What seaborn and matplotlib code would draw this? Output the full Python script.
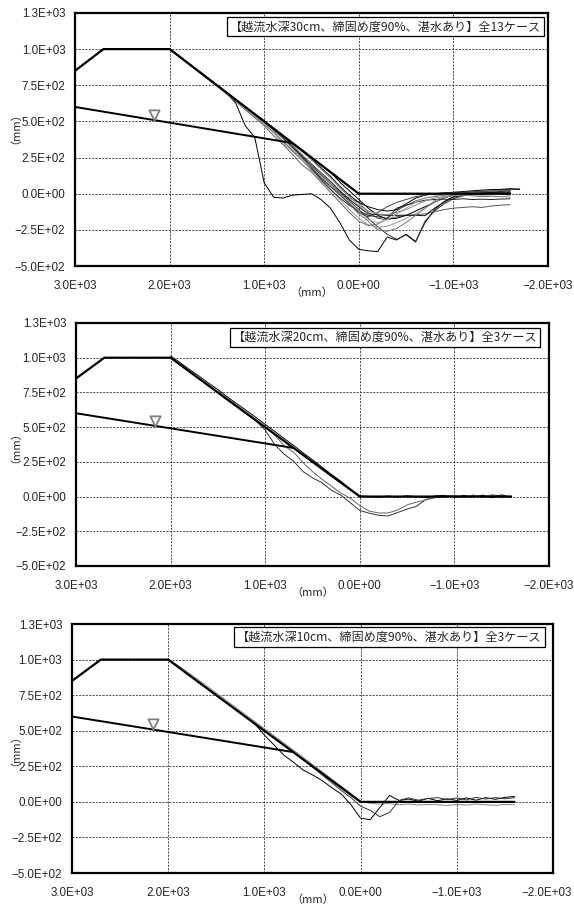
import numpy as np
import pandas as pd
import matplotlib
matplotlib.use("Agg")
import matplotlib.pyplot as plt
import matplotlib.transforms as mtransforms
import seaborn as sns

nan = np.nan

# survey positions along the levee (mm), shared by every measured case
x_grid = [2000, 1900, 1800, 1700, 1600, 1500, 1400, 1300, 1200, 1100,
          1000, 900, 800, 700, 600, 500, 400, 300, 200, 100,
          0, -100, -200, -300, -400, -500, -600, -700, -800, -900,
          -1000, -1100, -1200, -1300, -1400, -1500, -1600, -1700]

# initial levee profile and water surface
profile_x = [3000, 2700, 2000, 0, -1600]
profile_y = [850, 1000, 1000, 0, 0]
water_x = [3000, 700]
water_y = [600, 350]
water_mark = [2160, 545]

x_ticks = [3000, 2000, 1000, 0, -1000, -2000]
x_ticklabels = ["3.0E+03", "2.0E+03", "1.0E+03", "0.0E+00", "\u22121.0E+03", "\u22122.0E+03"]
y_ticks = [1250, 1000, 750, 500, 250, 0, -250, -500]
y_ticklabels = ["1.3E+03", "1.0E+03", "7.5E+02", "5.0E+02", "2.5E+02", "0.0E+00",
                "\u22122.5E+02", "\u22125.0E+02"]

titles = ["【越流水深30cm、締固め度90%、湛水あり】全13ケース",
          "【越流水深20cm、締固め度90%、湛水あり】全3ケース",
          "【越流水深10cm、締固め度90%、湛水あり】全3ケース"]

# overflow depth 30 cm: 13 cases
d30_cases = [
    [1005, 952, 903, 851, 801, 748, 697, 625, 470, 390,
     75, -25, -30, -10, -5, 0, -40, -100, -200, -320,
     -385, -395, -400, -300, -320, -280, -330, -200, -110, -55,
     -20, -5, 5, 10, 12, 15, 20, nan],
    [1000, 950, 899, 849, 799, 749, 699, 648, 598, 548,
     495, 440, 380, 320, 260, 195, 130, 70, 10, -50,
     -110, -170, -230, -280, -315, -285, -335, -190, -120, -70,
     -35, -15, -5, 0, 5, 3, 8, nan],
    [1002, 951, 901, 850, 800, 750, 698, 645, 592, 540,
     485, 425, 360, 300, 235, 170, 110, 50, 0, -30,
     -60, -130, -170, -180, -160, -150, -145, -140, -125, -110,
     -100, -95, -90, -95, -85, -80, -75, nan],
    [1001, 951, 900, 851, 800, 751, 700, 651, 600, 551,
     500, 451, 400, 350, 300, 250, 198, 148, 80, 20,
     -40, -100, -150, -175, -170, -150, -120, -90, -60, -30,
     -10, 5, 15, 20, 25, 28, 30, 32],
    [998, 948, 897, 846, 795, 744, 692, 640, 588, 535,
     480, 420, 350, 290, 230, 160, 90, 30, -40, -110,
     -170, -215, -235, -225, -200, -170, -140, -100, -60, -30,
     -10, 0, 5, 10, 12, 10, 15, nan],
    [1003, 953, 902, 852, 802, 751, 701, 650, 600, 550,
     500, 455, 395, 335, 265, 205, 145, 85, 20, -40,
     -90, -140, -145, -150, -150, -148, -150, -152, -100, -60,
     -25, -10, 0, 5, 8, 10, 12, nan],
    [1000, 949, 898, 847, 796, 745, 693, 638, 580, 525,
     470, 400, 340, 270, 200, 150, 80, 10, -60, -130,
     -190, -220, -210, -170, -120, -80, -50, -30, -20, -10,
     0, 10, 15, 20, 22, 25, 28, 30],
    [1002, 951, 900, 850, 799, 749, 699, 649, 601, 552,
     505, 450, 390, 325, 255, 175, 100, 30, -30, -80,
     -120, -150, -160, -170, -100, -80, -60, -45, -40, -38,
     -40, -35, -40, -38, -40, -37, -35, nan],
    [999, 950, 899, 849, 798, 747, 696, 645, 594, 543,
     490, 440, 380, 310, 240, 180, 120, 60, 0, -60,
     -120, -180, -200, -180, -140, -100, -60, -30, -15, -5,
     5, 10, 18, 22, 20, 25, 22, nan],
    [1001, 950, 901, 850, 801, 750, 701, 650, 601, 550,
     501, 450, 401, 350, 300, 240, 180, 120, 50, -10,
     -60, -90, -110, -120, -110, -70, -30, -10, 0, 5,
     10, 15, 20, 25, 28, 30, 35, 30],
    [1000, 950, 899, 848, 797, 746, 695, 645, 596, 546,
     495, 445, 385, 330, 270, 200, 140, 70, 0, -70,
     -140, -190, -250, -260, -240, -200, -150, -100, -50, -20,
     -10, -5, -15, -20, -18, -20, -22, nan],
    [1002, 952, 901, 851, 800, 750, 699, 649, 599, 549,
     498, 440, 385, 320, 250, 185, 110, 50, -10, -70,
     -130, -160, -130, -90, -60, -40, -20, -10, 0, 5,
     8, 10, 12, 15, 18, 20, 22, nan],
    [1001, 951, 900, 850, 800, 750, 700, 650, 600, 550,
     500, 448, 395, 345, 290, 235, 170, 110, 40, -20,
     -80, -120, -140, -145, -130, -110, -80, -50, -30, -20,
     -15, -10, -8, -10, -8, -5, -10, nan],
]
d30_colors = ["#000000", "#333333", "#555555", "#000000", "#999999", "#111111", "#666666",
              "#222222", "#aaaaaa", "#000000", "#777777", "#444444", "#888888"]

# overflow depth 20 cm: 3 cases
d20_cases = [
    [1012, 965, 915, 868, 818, 770, 718, 668, 620, 570,
     520, 470, 418, 368, 315, 265, 212, 160, 110, 55,
     5, 0, -6, 4, -4, 6, -2, -7, 5, 9,
     -5, 8, -3, 10, -8, 12, -4, nan],
    [1000, 948, 897, 848, 796, 745, 693, 645, 595, 545,
     480, 375, 305, 255, 180, 135, 100, 45, 10, -45,
     -100, -120, -135, -140, -115, -90, -70, -20, -8, -2,
     6, -6, 9, -5, 12, 3, -8, nan],
    [1003, 952, 902, 851, 801, 750, 700, 650, 599, 549,
     500, 445, 365, 320, 245, 180, 125, 75, 25, -12,
     -65, -105, -118, -118, -97, -60, -40, -25, -5, 3,
     8, -4, 10, 0, 7, -9, 5, nan],
]
d20_colors = ["#000000", "#333333", "#666666"]

# overflow depth 10 cm: 3 cases
d10_cases = [
    [1005, 960, 912, 865, 815, 765, 715, 665, 615, 565,
     515, 465, 415, 365, 315, 262, 212, 160, 110, 58,
     5, -10, -15, -12, -20, -15, -22, -18, -20, -25,
     -18, -22, -15, -20, -24, -18, -20, nan],
    [1000, 950, 898, 848, 798, 748, 697, 648, 598, 548,
     470, 400, 330, 280, 225, 190, 150, 100, 55, -20,
     -115, -125, -40, 45, 10, 20, 5, 25, 8, 22,
     10, 28, 12, 30, 18, 32, 38, nan],
    [1001, 951, 900, 850, 800, 750, 700, 650, 600, 550,
     500, 452, 402, 352, 300, 245, 190, 135, 80, 30,
     -30, -60, -104, -75, 10, 28, 12, 24, 30, 16,
     28, 14, 32, 20, 30, 22, 30, nan],
]
d10_colors = ["#888888", "#000000", "#333333"]

panel_cases = [d30_cases, d20_cases, d10_cases]
panel_colors = [d30_colors, d20_colors, d10_colors]

rects = [[0.1307, 0.7064, 0.8240, 0.2793],
         [0.1324, 0.3753, 0.8240, 0.2682],
         [0.1254, 0.0364, 0.8380, 0.2748]]
title_pos = [(0.985, 0.945), (0.975, 0.942), (0.977, 0.948)]
ylabel_pos = [(-0.127, 0.565), (-0.129, 0.51), (-0.118, 0.515)]

sns.set_style("white")
plt.rcParams['font.family'] = ['Liberation Sans', 'Noto Sans CJK JP', 'DejaVu Sans']

fig = plt.figure(figsize=(5.74, 9.06), dpi=100)

for i in range(3):
    ax = fig.add_axes(rects[i])

    rows = []
    for c, ys in enumerate(panel_cases[i]):
        for xv, yv in zip(x_grid, ys):
            rows.append({'x': xv, 'y': yv, 'case': 'c%02d' % c})
    df = pd.DataFrame(rows).dropna()
    pal = {'c%02d' % c: col for c, col in enumerate(panel_colors[i])}

    sns.lineplot(data=df, x='x', y='y', hue='case', palette=pal, estimator=None,
                 sort=False, legend=False, linewidth=0.7, ax=ax, zorder=3)

    sns.lineplot(x=profile_x, y=profile_y, color='black', linewidth=1.6,
                 estimator=None, sort=False, ax=ax, zorder=4)
    sns.lineplot(x=water_x, y=water_y, color='black', linewidth=1.4,
                 estimator=None, sort=False, ax=ax, zorder=4)
    ax.scatter([water_mark[0]], [water_mark[1]], marker='v', s=55, facecolor='white',
               edgecolor='#808080', linewidth=1.3, zorder=5)

    ax.set_xlim(3000, -2000)
    ax.set_ylim(-500, 1250)
    ax.set_xticks(x_ticks)
    ax.set_xticklabels(x_ticklabels)
    ax.set_yticks(y_ticks)
    ax.set_yticklabels(y_ticklabels)
    ax.tick_params(length=0, labelsize=8.4)
    ax.tick_params(axis='x', pad=10)
    ax.tick_params(axis='y', pad=7)

    ax.grid(True, color='#333333', linestyle=(0, (2.5, 1.5)), linewidth=0.6)
    for s in ax.spines.values():
        s.set_color('black')
        s.set_linewidth(1.6)

    ax.set_xlabel('（mm）', fontsize=8, family=['Noto Sans CJK JP'], labelpad=-3)
    ax.set_ylabel('（mm）', fontsize=8, family=['Noto Sans CJK JP'])
    ax.yaxis.set_label_coords(*ylabel_pos[i])

    ax.text(title_pos[i][0], title_pos[i][1], titles[i], transform=ax.transAxes,
            ha='right', va='center', fontsize=8.7, family=['Noto Sans CJK JP'],
            bbox=dict(boxstyle='square,pad=0.25', facecolor='white', edgecolor='black',
                      linewidth=0.9), zorder=6)

    # the bottom panel is wider, so nudge its last x label back inside the figure
    if i == 2:
        last = ax.get_xticklabels()[-1]
        shift = mtransforms.ScaledTranslation(-6 / 100, 0, fig.dpi_scale_trans)
        last.set_transform(last.get_transform() + shift)

fig.savefig('out.png', dpi=100)
